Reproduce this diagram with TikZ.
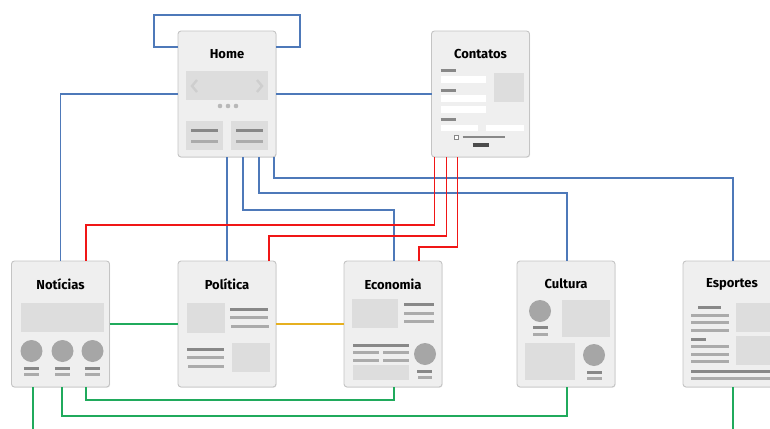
\documentclass[tikz,border=0pt]{standalone}
\usepackage{fontspec}
\setmainfont{Fira Sans}
\usetikzlibrary{calc,shadows}

\definecolor{pagefill}{HTML}{EFEFEF}
\definecolor{pagerule}{HTML}{C4C4C4}
\definecolor{panefill}{HTML}{DDDDDD}
\definecolor{dotfill}{HTML}{A6A6A6}
\definecolor{bardark}{HTML}{888888}
\definecolor{barlight}{HTML}{ABABAB}
\definecolor{linkblue}{RGB}{78,121,185}
\definecolor{linkred}{RGB}{240,22,22}
\definecolor{linkgreen}{RGB}{32,170,92}
\definecolor{linkyellow}{RGB}{230,176,32}

\begin{document}
\begin{tikzpicture}[
    x=1pt, y=1pt,
    line join=miter,
    page/.style={draw=pagerule, fill=pagefill, line width=0.9pt, rounded corners=3pt,
      minimum width=98pt, minimum height=126pt, inner sep=0pt, outer sep=0pt,
      drop shadow={shadow xshift=0.6pt, shadow yshift=-0.8pt, opacity=0.18}},
    ptitle/.style={font=\bfseries\fontsize{13}{15}\selectfont, inner sep=0pt},
    pane/.style={fill=panefill},
    disc/.style={fill=dotfill},
    bard/.style={draw=bardark, line width=3pt},
    barl/.style={draw=barlight, line width=3pt},
    field/.style={fill=white},
    link/.style={line width=1.6pt},
    blue/.style={link, draw=linkblue},
    red/.style={link, draw=linkred},
    green/.style={link, draw=linkgreen},
    yellow/.style={link, draw=linkyellow},
  ]
  \useasboundingbox (0,0) rectangle (770,-428);

  % ---- pages ---------------------------------------------------------
  \node[page] (H)   at (227,-94)   {};
  \node[page] (C)   at (480.5,-94) {};
  \node[page] (Not) at (60.5,-324) {};
  \node[page] (Pol) at (227,-324)  {};
  \node[page] (Eco) at (393,-324)  {};
  \node[page] (Cul) at (566,-324)  {};
  \node[page] (Esp) at (732,-324)  {};

  \node[ptitle] (Ht)   at ([yshift=-23pt]H.north)   {Home};
  \node[ptitle] (Ct)   at ([yshift=-23pt]C.north)   {Contatos};
  \node[ptitle] (Nott) at ([yshift=-23pt]Not.north) {Notícias};
  \node[ptitle] (Polt) at ([yshift=-23pt]Pol.north) {Política};
  \node[ptitle] (Ecot) at ([yshift=-23pt]Eco.north) {Economia};
  \node[ptitle] (Cult) at ([yshift=-23pt]Cul.north) {Cultura};
  \node[ptitle] (Espt) at ([yshift=-23pt]Esp.north) {Esportes};

  % ---- home: carousel and two teasers --------------------------------
  \begin{scope}[shift={(H.north west)}]
    \fill[pane] (8,-40) rectangle (90,-69);
    \draw[draw=dotfill!55!white, line width=2.4pt] (19,-49) -- (14,-55) -- (19,-61);
    \draw[draw=dotfill!55!white, line width=2.4pt] (79,-49) -- (84,-55) -- (79,-61);
    \foreach \dx in {42,50,58}
      \fill[fill=dotfill!80!white] (\dx,-75) circle (2.3);
    \fill[pane] (8,-90) rectangle (45,-119);
    \fill[pane] (53,-90) rectangle (90,-119);
    \draw[bard] (13,-99) -- (40,-99);
    \draw[barl] (13,-110) -- (40,-110);
    \draw[bard] (58,-99) -- (85,-99);
    \draw[barl] (58,-110) -- (85,-110);
  \end{scope}

  % ---- contatos: form ------------------------------------------------
  \begin{scope}[shift={(C.north west)}]
    \draw[bard] (9,-39) -- (24,-39);
    \draw[bard] (9,-59) -- (24,-59);
    \draw[bard] (9,-88) -- (24,-88);
    \fill[field] (9,-45) rectangle (54,-52);
    \fill[field] (9,-64) rectangle (54,-71);
    \fill[field] (9,-75) rectangle (54,-82);
    \fill[field] (9,-94) rectangle (46,-100);
    \fill[field] (54,-94) rectangle (92,-100);
    \fill[pane] (62,-42) rectangle (92,-71);
    \draw[draw=bardark, fill=white, line width=0.8pt] (23,-104) rectangle (27,-108);
    \draw[draw=bardark, line width=1.6pt] (31,-106) -- (73,-106);
    \draw[draw=black!70, line width=3.2pt] (41,-114) -- (57,-114);
  \end{scope}

  % ---- noticias ------------------------------------------------------
  \begin{scope}[shift={(Not.north west)}]
    \fill[pane] (9,-42) rectangle (92,-71);
    \foreach \cx in {20,51,81} {
      \fill[disc] (\cx,-90) circle (11);
      \draw[bard] (\cx-7.5,-107) -- (\cx+7.5,-107);
      \draw[barl] (\cx-7.5,-113) -- (\cx+7.5,-113);
    }
  \end{scope}

  % ---- politica ------------------------------------------------------
  \begin{scope}[shift={(Pol.north west)}]
    \fill[pane] (9,-42) rectangle (47,-72);
    \draw[bard] (52,-48) -- (90,-48);
    \draw[barl] (52,-56) -- (90,-56);
    \draw[barl] (53,-65) -- (91,-65);
    \draw[bard] (9,-88) -- (46,-88);
    \draw[barl] (9,-96) -- (46,-96);
    \draw[barl] (10,-105) -- (46,-105);
    \fill[pane] (54,-82) rectangle (92,-111);
  \end{scope}

  % ---- economia ------------------------------------------------------
  \begin{scope}[shift={(Eco.north west)}]
    \fill[pane] (8,-38) rectangle (54,-67);
    \draw[bard] (60,-43) -- (90,-43);
    \draw[barl] (60,-52) -- (90,-52);
    \draw[barl] (60,-60) -- (90,-60);
    \draw[bard] (9,-84) -- (65,-84);
    \draw[barl] (9,-91) -- (35,-91);
    \draw[barl] (39,-91) -- (65,-91);
    \draw[barl] (9,-99) -- (35,-99);
    \draw[barl] (39,-99) -- (65,-99);
    \fill[pane] (9,-104) rectangle (65,-119);
    \fill[disc] (81,-93) circle (11);
    \draw[bard] (73,-110) -- (88,-110);
    \draw[barl] (74,-116) -- (88,-116);
  \end{scope}

  % ---- cultura -------------------------------------------------------
  \begin{scope}[shift={(Cul.north west)}]
    \fill[disc] (23,-50) circle (11);
    \draw[bard] (16,-66) -- (31,-66);
    \draw[barl] (16,-73) -- (31,-73);
    \fill[pane] (45,-39) rectangle (93,-76);
    \fill[pane] (8,-82) rectangle (58,-119);
    \fill[disc] (77,-94) circle (11);
    \draw[bard] (70,-111) -- (85,-111);
    \draw[barl] (70,-117) -- (85,-117);
  \end{scope}

  % ---- esportes ------------------------------------------------------
  \begin{scope}[shift={(Esp.north west)}]
    \draw[bard] (15,-46) -- (38,-46);
    \foreach \ry in {54,61,69,85,93,100}
      \draw[barl] (8,-\ry) -- (46,-\ry);
    \draw[bard] (8,-78) -- (23,-78);
    \fill[pane] (53,-42) rectangle (91,-71);
    \fill[pane] (53,-75) rectangle (91,-104);
    \draw[bard] (8,-110) -- (91,-110);
    \draw[barl] (8,-117) -- (91,-117);
  \end{scope}

  % ---- links from home -----------------------------------------------
  \draw[blue] ([yshift=-16pt]H.north west) -- ++(-24,0) |- ([xshift=24pt,yshift=16pt]H.north east)
    -- ++(0,-32) -- ([yshift=-16pt]H.north east);
  \draw[blue] (H.east) -- (C.west);
  \draw[blue] (H.west) -| (Not.north);
  \draw[blue] (H.south) -- (Pol.north);
  \draw[blue] ([xshift=16pt]H.south) -- ++(0,-53) -| ([xshift=1pt]Eco.north);
  \draw[blue] ([xshift=32pt]H.south) -- ++(0,-36) -| ([xshift=1pt]Cul.north);
  \draw[blue] ([xshift=47pt]H.south) -- ++(0,-21) -| ([xshift=1pt]Esp.north);

  % ---- links from contatos -------------------------------------------
  \draw[red] ([xshift=3pt]C.south west) -- ++(0,-68) -| ([xshift=25.5pt]Not.north);
  \draw[red] ([xshift=15pt]C.south west) -- ++(0,-79) -| ([xshift=42pt]Pol.north);
  \draw[red] ([xshift=26pt]C.south west) -- ++(0,-90) -| ([xshift=26pt]Eco.north);

  % ---- links between sections ----------------------------------------
  \draw[green] (Not.east) -- (Pol.west);
  \draw[yellow] (Pol.east) -- (Eco.west);
  \draw[green] ([xshift=25.5pt]Not.south) -- ++(0,-13) -| ([xshift=1pt]Eco.south);
  \draw[green] ([xshift=1.5pt]Not.south) -- ++(0,-29) -| ([xshift=1pt]Cul.south);
  \coordinate (NotOut) at (33,-430);
  \coordinate (EspOut) at (733,-430);
  \draw[green] ([xshift=-27.5pt]Not.south) -- (NotOut);
  \draw[green] ([xshift=1pt]Esp.south) -- (EspOut);

\end{tikzpicture}
\end{document}
